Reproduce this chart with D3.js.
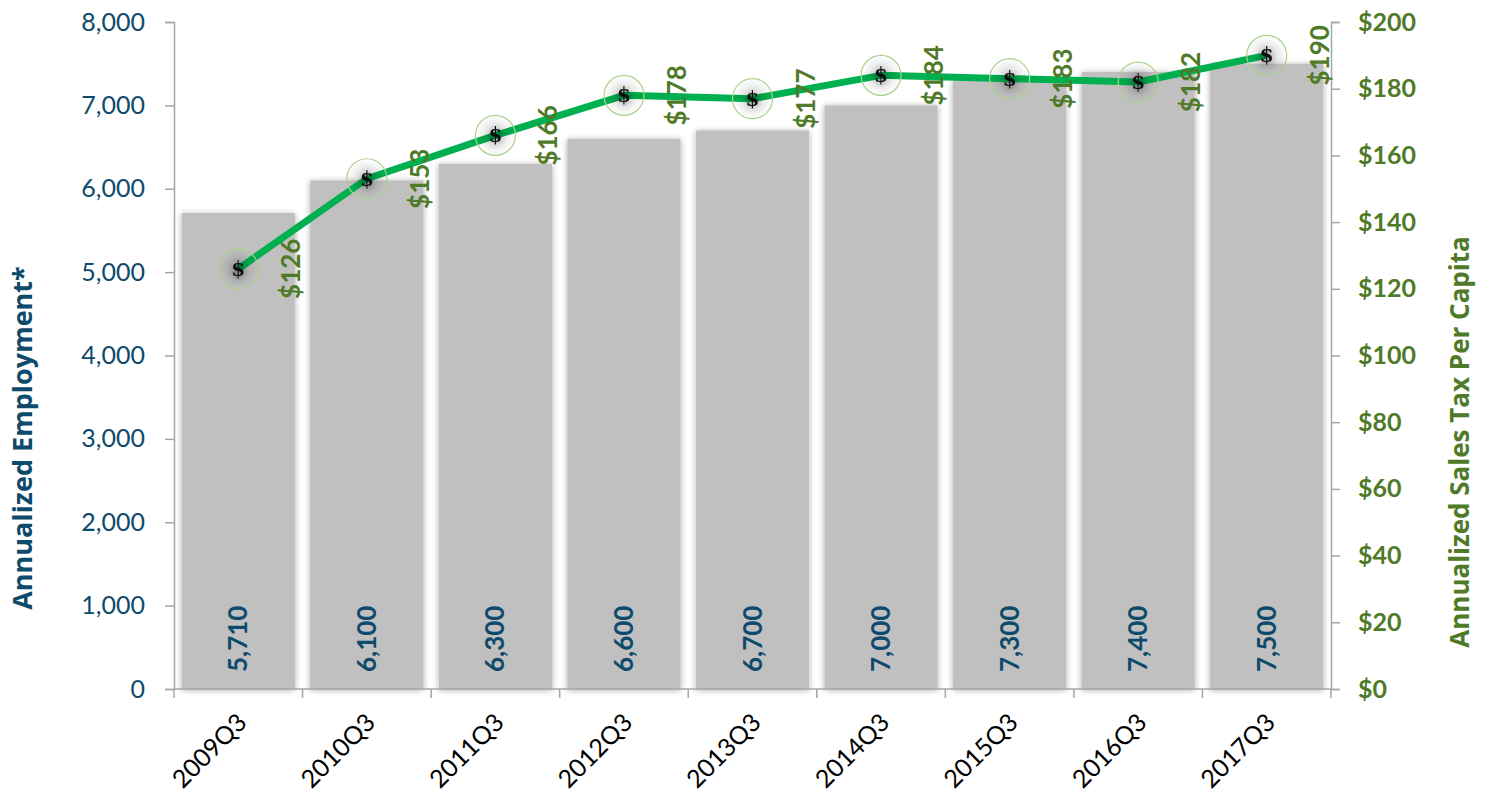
<!DOCTYPE html>
<html>
<head>
<meta charset="utf-8">
<script src="https://cdn.jsdelivr.net/npm/d3@7"></script>
<style>
  body { margin: 0; background: #fff; }
  svg { display: block; font-family: Lato, "Open Sans", sans-serif; }
  .axis path, .axis line { stroke: #a6a6a6; stroke-width: 1.5; }
</style>
</head>
<body>
<div id="chart"></div>
<script>
(function (d3) {

    var quarters = ['2009Q3', '2010Q3', '2011Q3', '2012Q3', '2013Q3', '2014Q3', '2015Q3', '2016Q3', '2017Q3'];
    var employment = [5710, 6100, 6300, 6600, 6700, 7000, 7300, 7400, 7500];
    var salesTax = [126, 153, 166, 178, 177, 184, 183, 182, 190];
    var leftTicks = [0, 1000, 2000, 3000, 4000, 5000, 6000, 7000, 8000];
    var rightTicks = [0, 20, 40, 60, 80, 100, 120, 140, 160, 180, 200];

    var width = 1488,
        height = 793;

    var left = 174, right = 1331, top = 22, bottom = 689;

    var blue = '#0d4a6b', green = '#4f7a28', lineGreen = '#00b050';

    var xScale = d3.scaleBand().domain(quarters).range([left, right]).paddingInner(0.12).paddingOuter(0.06);
    var yLeft = d3.scaleLinear().domain([0, 8000]).range([bottom, top]);
    var yRight = d3.scaleLinear().domain([0, 200]).range([bottom, top]);

    var svg = d3.select('#chart')
        .append('svg')
        .attr('width', width)
        .attr('height', height);

    var defs = svg.append('defs');
    var shadow = defs.append('filter').attr('id', 'shadow')
        .attr('x', '-20%').attr('y', '-20%').attr('width', '140%').attr('height', '140%');
    shadow.append('feGaussianBlur').attr('in', 'SourceAlpha').attr('stdDeviation', 3).attr('result', 'b');
    shadow.append('feOffset').attr('in', 'b').attr('dx', 0).attr('dy', 1).attr('result', 'o');
    shadow.append('feComponentTransfer').attr('in', 'o').attr('result', 'os')
        .append('feFuncA').attr('type', 'linear').attr('slope', 0.35);
    var merge = shadow.append('feMerge');
    merge.append('feMergeNode').attr('in', 'os');
    merge.append('feMergeNode').attr('in', 'SourceGraphic');

    var glow = defs.append('radialGradient').attr('id', 'glow');
    glow.append('stop').attr('offset', '0%').attr('stop-color', '#000').attr('stop-opacity', 0.18);
    glow.append('stop').attr('offset', '100%').attr('stop-color', '#000').attr('stop-opacity', 0);

    // bars
    svg.append('g').selectAll('rect')
        .data(employment)
        .enter().append('rect')
        .attr('x', function (d, i) { return xScale(quarters[i]); })
        .attr('y', function (d) { return yLeft(d); })
        .attr('width', xScale.bandwidth())
        .attr('height', function (d) { return bottom - yLeft(d); })
        .attr('fill', '#c0c0c0')
        .attr('filter', 'url(#shadow)');

    // bar labels
    svg.append('g').selectAll('text')
        .data(employment)
        .enter().append('text')
        .attr('transform', function (d, i) {
            return 'translate(' + (xScale(quarters[i]) + xScale.bandwidth() / 2 + 9) + ',' + (bottom - 17) + ') rotate(-90)';
        })
        .attr('fill', blue)
        .attr('font-size', 26)
        .attr('font-weight', 'bold')
        .text(function (d) { return d3.format(',')(d); });

    // axes
    var leftAxis = svg.append('g')
        .attr('class', 'axis')
        .attr('transform', 'translate(' + left + ',0)')
        .call(d3.axisLeft(yLeft).tickValues(leftTicks).tickFormat(d3.format(',')).tickSizeOuter(0).tickSize(9).tickPadding(20));
    leftAxis.selectAll('text').attr('fill', blue).attr('font-size', 25).attr('font-family', 'Lato, sans-serif');

    var rightAxis = svg.append('g')
        .attr('class', 'axis')
        .attr('transform', 'translate(' + right + ',0)')
        .call(d3.axisRight(yRight).tickValues(rightTicks).tickFormat(function (d) { return '$' + d; }).tickSizeOuter(0).tickSize(9).tickPadding(18));
    rightAxis.selectAll('text').attr('fill', green).attr('font-size', 25).attr('font-weight', 'bold').attr('font-family', 'Lato, sans-serif');

    var xAxis = svg.append('g')
        .attr('class', 'axis')
        .attr('transform', 'translate(0,' + bottom + ')');
    xAxis.append('line').attr('x1', left).attr('x2', right).attr('y1', 0).attr('y2', 0);
    xAxis.selectAll('line.tick')
        .data(quarters.concat(['end']))
        .enter().append('line')
        .attr('class', 'tick')
        .attr('x1', function (d, i) { return left + i * (right - left) / quarters.length; })
        .attr('x2', function (d, i) { return left + i * (right - left) / quarters.length; })
        .attr('y1', 0).attr('y2', 9);
    xAxis.selectAll('text')
        .data(quarters)
        .enter().append('text')
        .attr('transform', function (d) {
            return 'translate(' + (xScale(d) + xScale.bandwidth() / 2 + 10) + ',35) rotate(-45)';
        })
        .attr('text-anchor', 'end')
        .attr('fill', '#000')
        .attr('font-size', 25)
        .text(function (d) { return d; });

    // axis titles
    svg.append('text')
        .attr('transform', 'translate(32,438) rotate(-90)')
        .attr('text-anchor', 'middle')
        .attr('fill', blue)
        .attr('font-size', 27)
        .attr('font-weight', 'bold')
        .attr('font-family', '"Open Sans", sans-serif')
        .text('Annualized Employment*');

    svg.append('text')
        .attr('transform', 'translate(1469,442) rotate(-90)')
        .attr('text-anchor', 'middle')
        .attr('fill', green)
        .attr('font-size', 26)
        .attr('font-weight', 'bold')
        .attr('font-family', '"Open Sans", sans-serif')
        .text('Annualized Sales Tax Per Capita');

    // line
    var cx = function (i) { return xScale(quarters[i]) + xScale.bandwidth() / 2; };
    var line = d3.line()
        .x(function (d, i) { return cx(i); })
        .y(function (d) { return yRight(d); });

    svg.append('path')
        .attr('d', line(salesTax))
        .attr('fill', 'none')
        .attr('stroke', lineGreen)
        .attr('stroke-width', 7)
        .attr('stroke-linejoin', 'round');

    var markers = svg.append('g').selectAll('g')
        .data(salesTax)
        .enter().append('g')
        .attr('transform', function (d, i) { return 'translate(' + cx(i) + ',' + yRight(d) + ')'; });

    markers.append('circle')
        .attr('r', 20)
        .attr('fill', 'url(#glow)')
        .attr('stroke', '#a9d18e')
        .attr('stroke-width', 1.2);

    markers.append('text')
        .attr('text-anchor', 'middle')
        .attr('dy', 7)
        .attr('font-family', '"DejaVu Serif", "Liberation Serif", serif')
        .attr('font-weight', 'bold')
        .attr('font-size', 20)
        .attr('fill', '#111')
        .attr('filter', 'url(#shadow)')
        .text('$');

    // line labels
    svg.append('g').selectAll('text')
        .data(salesTax)
        .enter().append('text')
        .attr('transform', function (d, i) {
            return 'translate(' + (cx(i) + 62) + ',' + yRight(d) + ') rotate(-90)';
        })
        .attr('text-anchor', 'middle')
        .attr('fill', green)
        .attr('font-size', 26)
        .attr('font-weight', 'bold')
        .text(function (d) { return '$' + d; });

})(d3);
</script>
</body>
</html>
